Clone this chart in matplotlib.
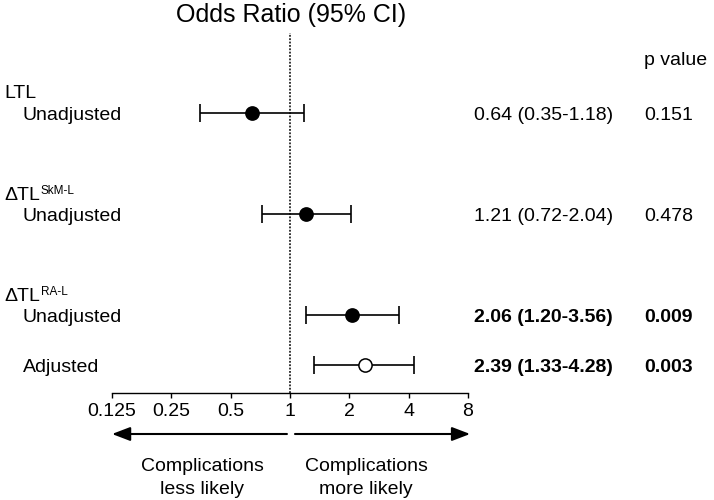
import matplotlib.pyplot as plt
from matplotlib.ticker import NullLocator
from matplotlib.transforms import blended_transform_factory

plt.rcParams['font.family'] = ['Liberation Sans', 'DejaVu Sans']

# data
group_names = ['LTL', 'ΔTL', 'ΔTL']
group_sups = ['', 'SkM-L', 'RA-L']
row_labels = ['Unadjusted', 'Unadjusted', 'Unadjusted', 'Adjusted']
odds = [0.64, 1.21, 2.06, 2.39]
ci_low = [0.35, 0.72, 1.20, 1.33]
ci_high = [1.18, 2.04, 3.56, 4.28]
p_values = [0.151, 0.478, 0.009, 0.003]
filled = [True, True, True, False]
tick_vals = [0.125, 0.25, 0.5, 1, 2, 4, 8]
tick_labels = ['0.125', '0.25', '0.5', '1', '2', '4', '8']

# layout (pixel rows, top-down)
W, H = 714, 500
row_y = [113, 214, 315, 365]
group_y = [91, 193, 294]
fs = 14
half_cap = 7  # px from cap centre down to baseline at 14pt

fig = plt.figure(figsize=(W / 100, H / 100), dpi=100)
ax = fig.add_axes([112 / W, 1 - 393 / H, 356 / W, 360 / H])
ax.set_xscale('log', base=2)
ax.set_xlim(0.125, 8)
ax.set_ylim(393, 33)

ax.axvline(1, color='black', lw=1.1, linestyle=(0, (1.2, 1.0)), zorder=1)

for i in range(len(odds)):
    ax.errorbar(odds[i], row_y[i], xerr=[[odds[i] - ci_low[i]], [ci_high[i] - odds[i]]],
                fmt='none', ecolor='black', elinewidth=1.2, capsize=6.5, capthick=1.2, zorder=2)
    ax.plot(odds[i], row_y[i], marker='o', ms=9.5, mec='black', mew=1.1,
            mfc='black' if filled[i] else 'white', zorder=3)

ax.set_xticks(tick_vals)
ax.set_xticklabels(tick_labels)
ax.xaxis.set_minor_locator(NullLocator())
ax.tick_params(axis='x', direction='out', length=3.6, width=1, labelsize=fs, pad=3.8)
ax.set_yticks([])
for s in ['left', 'right', 'top']:
    ax.spines[s].set_visible(False)
ax.spines['bottom'].set_linewidth(1)

# text in pixel coordinates
def fx(x):
    return x / W

def fy(y):
    return 1 - y / H

fig.text(fx(291), fy(22), 'Odds Ratio (95% CI)', fontsize=18, ha='center', va='baseline')
fig.text(fx(644), fy(58 + half_cap), 'p value', fontsize=fs, ha='left', va='baseline')

for i in range(len(group_names)):
    t = fig.text(fx(4), fy(group_y[i] + half_cap), group_names[i], fontsize=fs,
                 ha='left', va='baseline')
    if group_sups[i]:
        ax.annotate(group_sups[i], xy=(1.0, fy(group_y[i] + 1)), xycoords=(t, fig.transFigure),
                    xytext=(0.5, 0), textcoords='offset points',
                    fontsize=8.5, ha='left', va='baseline', annotation_clip=False)

for i in range(len(row_labels)):
    wt = 'bold' if p_values[i] < 0.05 else 'normal'
    yb = fy(row_y[i] + half_cap)
    fig.text(fx(23), yb, row_labels[i], fontsize=fs, ha='left', va='baseline')
    fig.text(fx(474), yb, f'{odds[i]:.2f} ({ci_low[i]:.2f}-{ci_high[i]:.2f})',
             fontsize=fs, ha='left', va='baseline', fontweight=wt)
    fig.text(fx(644), yb, f'{p_values[i]:.3f}', fontsize=fs, ha='left', va='baseline',
             fontweight=wt)

# direction arrows under the axis
trans = blended_transform_factory(ax.transData, fig.transFigure)
arrow_y = fy(434)
style = '-|>,head_length=0.55,head_width=0.21'
ax.annotate('', xy=(0.125, arrow_y), xytext=(0.965, arrow_y), xycoords=trans, textcoords=trans,
            annotation_clip=False,
            arrowprops=dict(arrowstyle=style, color='black', lw=1.5, shrinkA=0, shrinkB=0,
                            mutation_scale=20))
ax.annotate('', xy=(8.2, arrow_y), xytext=(1.06, arrow_y), xycoords=trans, textcoords=trans,
            annotation_clip=False,
            arrowprops=dict(arrowstyle=style, color='black', lw=1.5, shrinkA=0, shrinkB=0,
                            mutation_scale=20))

for cx, words in [(202, 'less likely'), (366, 'more likely')]:
    fig.text(fx(cx), fy(464 + half_cap), 'Complications', fontsize=fs, ha='center', va='baseline')
    fig.text(fx(cx), fy(487 + half_cap), words, fontsize=fs, ha='center', va='baseline')

fig.savefig('out.png', dpi=100)
